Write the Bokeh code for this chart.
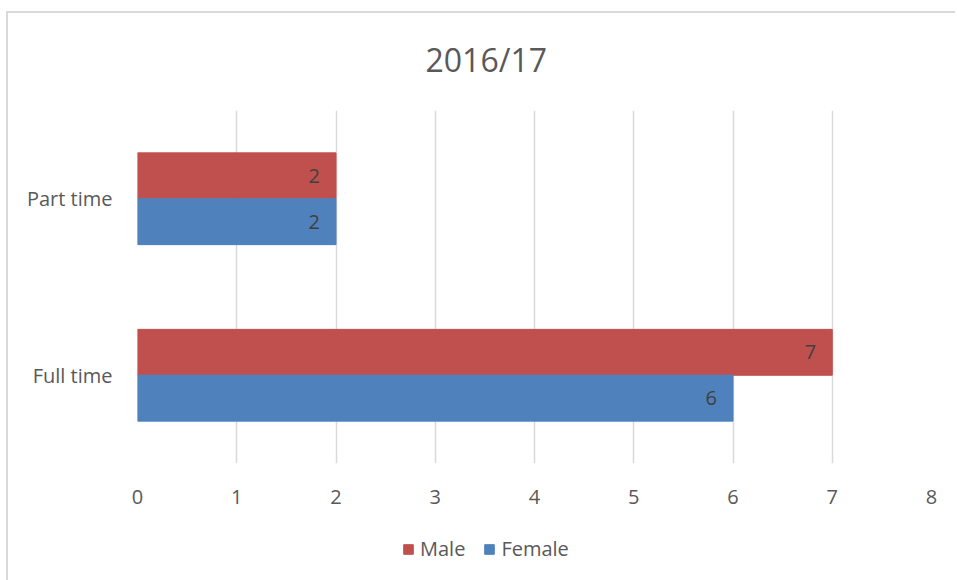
from bokeh.plotting import figure
from bokeh.layouts import column
from bokeh.models import ColumnDataSource, FactorRange, Range1d, Legend, LegendItem, FixedTicker, Title
from bokeh.transform import dodge
from bokeh.core.properties import value
from bokeh.embed import file_html
from bokeh.resources import INLINE

categories = ["Full time", "Part time"]
male = [7, 2]
female = [6, 2]
x_ticks = [0, 1, 2, 3, 4, 5, 6, 7, 8]
series_names = ["Male", "Female"]
title_text = "2016/17"

FONT = "Open Sans"
TXT = "#595959"
RED = "#C0504D"
BLUE = "#4F81BD"
BORDER = "#d9d9d9"

src = ColumnDataSource(dict(
    cat=categories,
    male=male,
    female=female,
    male_lbl=[str(v) for v in male],
    female_lbl=[str(v) for v in female],
))

p = figure(frame_width=794, frame_height=353, output_backend="svg", toolbar_location=None,
           y_range=FactorRange(factors=categories, range_padding=0),
           x_range=Range1d(0, 8),
           min_border_left=137, min_border_right=24, min_border_top=110, min_border_bottom=57)

p.title = Title(text=title_text, align="left", text_font=FONT, text_font_size="32px",
                text_color=TXT, text_font_style="normal", offset=288, standoff=59)

bar_h = 0.26
p.hbar(y=dodge("cat", bar_h / 2, range=p.y_range), right="male", left=0, height=bar_h,
       source=src, fill_color=RED, line_color=RED)
p.hbar(y=dodge("cat", -bar_h / 2, range=p.y_range), right="female", left=0, height=bar_h,
       source=src, fill_color=BLUE, line_color=BLUE)

p.text(x="male", y=dodge("cat", bar_h / 2, range=p.y_range), text="male_lbl", source=src,
       text_align="right", text_baseline="middle", x_offset=-16,
       text_font=value(FONT), text_font_size="20px", text_color="#404040")
p.text(x="female", y=dodge("cat", -bar_h / 2, range=p.y_range), text="female_lbl", source=src,
       text_align="right", text_baseline="middle", x_offset=-16,
       text_font=value(FONT), text_font_size="20px", text_color="#404040")

# axes
p.xaxis.ticker = FixedTicker(ticks=x_ticks)
p.xaxis.axis_line_color = None
p.xaxis.major_tick_line_color = None
p.xaxis.minor_tick_line_color = None
p.xaxis.major_label_standoff = 20
p.xaxis.major_label_text_font = FONT
p.xaxis.major_label_text_font_size = "20px"
p.xaxis.major_label_text_color = TXT

p.yaxis.axis_line_color = None
p.yaxis.major_tick_line_color = None
p.yaxis.minor_tick_line_color = None
p.yaxis.major_label_standoff = 19
p.yaxis.major_label_text_font = FONT
p.yaxis.major_label_text_font_size = "20px"
p.yaxis.major_label_text_color = TXT

p.ygrid.grid_line_color = None
p.xgrid.grid_line_color = BORDER
p.xgrid.grid_line_width = 1.5
p.outline_line_color = None

p.border_fill_alpha = 0
p.styles = {
    "background": (f"linear-gradient({BORDER}, {BORDER}) 6px 11px / 2px 100% no-repeat, "
                   f"linear-gradient({BORDER}, {BORDER}) 6px 11px / 100% 2px no-repeat, white"),
}

# legend strip below the chart (its frame is aligned with the chart's frame)
lg = figure(width=955, height=60, output_backend="svg", toolbar_location=None,
            x_axis_type=None, y_axis_type=None, x_range=Range1d(0, 1), y_range=Range1d(0, 1),
            min_border=0)
lg.grid.grid_line_color = None
lg.outline_line_color = None
lg.border_fill_alpha = 0
lg.background_fill_alpha = 0
# legend-swatch renderers: one bar placed entirely outside the visible ranges
swatch = ColumnDataSource(dict(y=[-3], left=[-3], right=[-2]))
lm = lg.hbar(y="y", right="right", left="left", height=0.1, source=swatch,
             fill_color=RED, line_color=RED)
lf = lg.hbar(y="y", right="right", left="left", height=0.1, source=swatch,
             fill_color=BLUE, line_color=BLUE)
legend = Legend(items=[LegendItem(label=series_names[0], renderers=[lm]),
                       LegendItem(label=series_names[1], renderers=[lf])],
                orientation="horizontal", location=(265, 18),
                label_text_font=FONT, label_text_font_size="20px", label_text_color=TXT,
                glyph_width=12, glyph_height=12, label_standoff=6, spacing=18,
                padding=0, margin=0, border_line_color=None, background_fill_alpha=0)
lg.add_layout(legend, "center")
lg.styles = {
    "background": f"linear-gradient({BORDER}, {BORDER}) 6px 0px / 2px 100% no-repeat, white",
}

open("out.html", "w").write(file_html(column(p, lg, spacing=0), INLINE))
